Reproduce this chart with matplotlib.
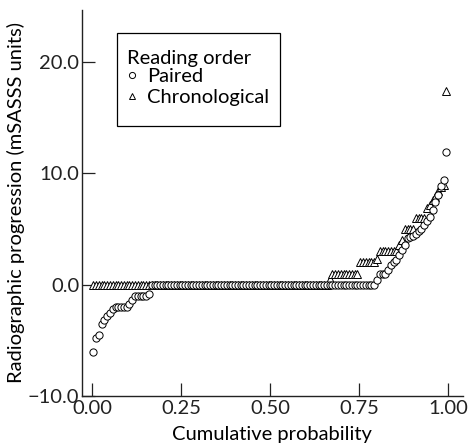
import matplotlib
matplotlib.use("Agg")
import matplotlib.pyplot as plt
from matplotlib.patches import Rectangle
import numpy as np

plt.rcParams['font.family'] = ['Lato', 'DejaVu Sans']

# sorted progression scores, written as (value, count) runs
paired_values = [-6.0, -4.8, -4.5, -3.5, -3.2, -2.8, -2.5, -2.2, -2.0, -1.7, -1.4, -1.0, -0.8,
                 0.0, 0.4, 1.0, 1.3, 1.8, 2.0, 2.2, 2.7, 3.1, 3.6, 4.2, 4.3, 4.4, 4.6, 4.8,
                 5.0, 5.4, 5.7, 6.1, 6.7, 7.4, 8.1, 8.9, 9.4, 11.9]
paired_counts = [1, 1, 1, 1, 1, 1, 1, 1, 5, 1, 1, 5, 1,
                 81, 1, 3, 1, 1, 1, 1, 1, 1, 1, 1, 1, 1, 1, 1,
                 1, 1, 1, 1, 1, 1, 1, 1, 1, 1]

chrono_values = [0.0, 0.5, 1.0, 2.0, 2.3, 3.0, 3.6, 4.0, 5.0, 6.0,
                 6.9, 7.2, 7.6, 7.9, 8.4, 8.8, 9.0, 17.4]
chrono_counts = [85, 1, 10, 6, 1, 7, 1, 1, 4, 4,
                 1, 1, 1, 1, 1, 1, 1, 1]

x_ticks = [0.0, 0.25, 0.5, 0.75, 1.0]
y_ticks = [-10.0, 0.0, 10.0, 20.0]

paired = np.repeat(paired_values, paired_counts)
chrono = np.repeat(chrono_values, chrono_counts)

# plotting positions for the cumulative probability
p_paired = (np.arange(1, len(paired) + 1) - 0.5) / len(paired)
p_chrono = (np.arange(1, len(chrono) + 1) - 0.5) / len(chrono)

fig = plt.figure(figsize=(4.69, 4.48), dpi=100)
ax = fig.add_axes([0.1748, 0.116, 0.812, 0.862])

ax.plot(p_chrono, chrono, linestyle='none', marker='^', markersize=5.5,
        markerfacecolor='white', markeredgecolor='black', markeredgewidth=0.7,
        label='Chronological', zorder=3)
ax.plot(p_paired, paired, linestyle='none', marker='o', markersize=5.2,
        markerfacecolor='white', markeredgecolor='black', markeredgewidth=0.7,
        label='Paired', zorder=3)

ax.set_xlim(-0.028, 1.042)
ax.set_ylim(-10, 24.7)
ax.set_xticks(x_ticks)
ax.set_xticklabels(['%.2f' % t for t in x_ticks])
ax.set_yticks(y_ticks)
ax.set_yticklabels([('%.1f' % t).replace('-', '\u2212') for t in y_ticks])

for s in ['top', 'right']:
    ax.spines[s].set_visible(False)
for s in ['left', 'bottom']:
    ax.spines[s].set_linewidth(1.0)
    ax.spines[s].set_color('#222222')

fs = 14.5
ax.tick_params(direction='in', length=9.5, width=0.9, labelsize=fs, colors='#222222',
               pad=2)
ax.tick_params(axis='x', pad=3)

ax.set_xlabel('Cumulative probability', fontsize=fs, labelpad=6)
ax.set_ylabel('Radiographic progression (mSASSS units)', fontsize=fs, labelpad=2)

# legend box drawn separately so the padding can differ top/bottom vs sides
ax.add_patch(Rectangle((0.092, 0.699), 0.428, 0.241, transform=ax.transAxes,
                       facecolor='white', edgecolor='black', linewidth=0.9, zorder=4))

handles, labels = ax.get_legend_handles_labels()
leg = ax.legend(handles[::-1], labels[::-1], title='Reading order', loc='upper left',
                bbox_to_anchor=(0.118, 0.897), borderaxespad=0, fontsize=fs,
                title_fontsize=fs, frameon=False, markerscale=0.85,
                handlelength=0.5, handletextpad=0.5, borderpad=0, labelspacing=0.2)
leg._legend_box.align = 'left'
leg._legend_box.sep = 1
leg.set_zorder(5)

fig.savefig('out.png', dpi=100)
